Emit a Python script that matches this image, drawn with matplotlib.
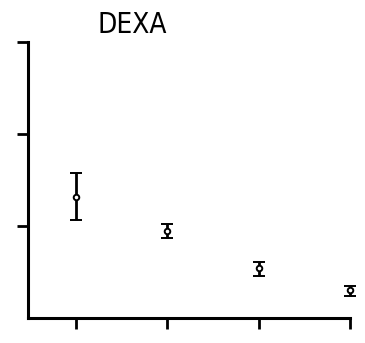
import matplotlib.pyplot as plt

# DEXA values per visit, with error bar limits
visits = [1, 2, 3, 4]
means = [1.315, 0.946, 0.543, 0.304]
upper = [1.576, 1.020, 0.609, 0.348]
lower = [1.065, 0.870, 0.457, 0.239]

err_lo = [m - l for m, l in zip(means, lower)]
err_hi = [u - m for m, u in zip(means, upper)]

fig = plt.figure(figsize=(3.65, 3.43), dpi=100)
ax = fig.add_axes([0.0767, 0.0729, 0.882, 0.8047])

bars = ax.errorbar(visits, means, yerr=[err_lo, err_hi], fmt='o', color='black',
                   markerfacecolor='white', markersize=4, markeredgewidth=1.4,
                   elinewidth=2, capsize=4, capthick=2.2)
for artist in bars.lines[0:1] + bars.lines[1] + bars.lines[2]:
    artist.set_clip_on(False)

ax.set_xlim(0.474, 4)
ax.set_ylim(0, 3)
ax.set_xticks(visits)
ax.set_yticks([1, 2, 3])
ax.set_xticklabels([])
ax.set_yticklabels([])
ax.tick_params(direction='out', length=8, width=2, color='black')

for side in ['top', 'right']:
    ax.spines[side].set_visible(False)
for side in ['left', 'bottom']:
    ax.spines[side].set_linewidth(2.2)

# plotter-style heading above the axes
fig.text(0.363, 0.927, 'DEXA', fontsize=20, ha='center', va='center',
         family='DejaVu Sans', fontstretch='condensed')

fig.savefig('out.png', dpi=100)
